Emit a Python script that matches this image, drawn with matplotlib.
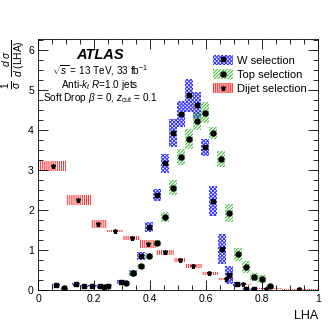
import matplotlib
matplotlib.use("Agg")
import matplotlib.pyplot as plt
from matplotlib.patches import Rectangle, Patch
from matplotlib.lines import Line2D
from matplotlib.ticker import MultipleLocator
import numpy as np

plt.rcParams['font.family'] = ['Liberation Sans', 'DejaVu Sans']
plt.rcParams['mathtext.fontset'] = 'custom'
plt.rcParams['mathtext.rm'] = 'Liberation Sans'
plt.rcParams['mathtext.it'] = 'Liberation Sans:italic'
plt.rcParams['mathtext.bf'] = 'Liberation Sans:bold'
plt.rcParams['hatch.linewidth'] = 0.7

# W selection
w_x = [0.064, 0.136, 0.164, 0.194, 0.221, 0.251, 0.295, 0.340, 0.368, 0.396, 0.425, 0.454,
       0.483, 0.512, 0.540, 0.569, 0.598, 0.626, 0.656, 0.683, 0.712, 0.742, 0.773]
w_y = [0.12, 0.14, 0.10, 0.10, 0.09, 0.10, 0.21, 0.43, 0.85, 1.58, 2.37, 3.16,
       3.93, 4.39, 4.86, 4.62, 3.56, 2.23, 1.02, 0.37, 0.14, 0.03, 0.02]
w_err = [0.03, 0.03, 0.03, 0.03, 0.03, 0.03, 0.05, 0.08, 0.10, 0.12, 0.15, 0.23,
         0.35, 0.32, 0.41, 0.33, 0.22, 0.37, 0.37, 0.23, 0.05, 0.03, 0.02]

# Top selection
t_x = [0.093, 0.236, 0.313, 0.340, 0.368, 0.396, 0.424, 0.454, 0.483, 0.512, 0.540,
       0.569, 0.598, 0.626, 0.655, 0.683, 0.713, 0.743, 0.773, 0.800, 0.829]
t_y = [0.04, 0.07, 0.18, 0.43, 0.59, 0.85, 1.17, 1.82, 2.56, 3.31, 3.78,
       4.21, 4.43, 3.93, 3.27, 1.93, 0.89, 0.57, 0.32, 0.27, 0.10]
t_err = [0.02, 0.02, 0.04, 0.07, 0.07, 0.07, 0.08, 0.13, 0.18, 0.20, 0.25,
         0.21, 0.27, 0.15, 0.19, 0.22, 0.17, 0.15, 0.10, 0.10, 0.05]

# Dijet selection (variable bins)
d_edges = [0.0, 0.1, 0.19, 0.245, 0.303, 0.366, 0.423, 0.487, 0.525, 0.585, 0.643,
           0.70, 0.76, 0.87, 1.0]
d_x = [0.055, 0.144, 0.215, 0.275, 0.335, 0.394, 0.454, 0.506, 0.552, 0.612, 0.670,
       0.731, 0.814, 0.933]
d_y = [3.10, 2.25, 1.65, 1.48, 1.31, 1.16, 0.94, 0.75, 0.60, 0.42, 0.27, 0.14, 0.03, 0.02]
d_err = [0.12, 0.13, 0.09, 0.03, 0.05, 0.10, 0.07, 0.06, 0.055, 0.04, 0.03, 0.02, 0.01, 0.01]

bin_w = 0.0286

fig = plt.figure(figsize=(3.32, 3.22), dpi=100)
ax = fig.add_axes([0.1145, 0.0994, 0.8433, 0.7795])

blue = '#3333ff'
green = '#33bb33'
red = '#ff2222'
w_hatch = 'x' * 9
t_hatch = '/' * 10
d_hatch = '|' * 8

for i, (y, e) in enumerate(zip(d_y, d_err)):
    lo, hi = d_edges[i], d_edges[i + 1]
    ax.add_patch(Rectangle((lo, y - e), hi - lo, 2 * e, facecolor='none',
                           edgecolor=red, hatch=d_hatch, linewidth=0))
for x, y, e in zip(w_x, w_y, w_err):
    ax.add_patch(Rectangle((x - bin_w / 2, y - e), bin_w, 2 * e, facecolor='none',
                           edgecolor=blue, hatch=w_hatch, linewidth=0))
for x, y, e in zip(t_x, t_y, t_err):
    ax.add_patch(Rectangle((x - bin_w / 2, y - e), bin_w, 2 * e, facecolor='none',
                           edgecolor=green, hatch=t_hatch, linewidth=0))

ax.plot(w_x, w_y, 's', color='black', markersize=3.2, linestyle='none')
ax.plot(t_x, t_y, 'o', color='black', markersize=3.6, linestyle='none')
ax.plot(d_x, d_y, '*', color='black', markersize=3.6, linestyle='none')

ax.set_xlim(0, 1)
ax.set_ylim(0, 6.27)
ax.xaxis.set_minor_locator(MultipleLocator(0.05))
ax.yaxis.set_major_locator(MultipleLocator(1))
ax.yaxis.set_minor_locator(MultipleLocator(0.25))
ax.tick_params(which='both', direction='in', top=True, right=True, labelsize=7.5, pad=3)
ax.tick_params(which='major', length=7, width=0.6)
ax.tick_params(which='minor', length=3.5, width=0.6)
ax.set_xticks([0, 0.2, 0.4, 0.6, 0.8, 1.0])
ax.set_xticklabels(['0', '0.2', '0.4', '0.6', '0.8', '1'])
for s in ax.spines.values():
    s.set_linewidth(0.6)

ax.set_xlabel('LHA', loc='right', fontsize=9, labelpad=4)
fig.text(14 / 332, 1 - 40 / 322, r'$\frac{1}{\sigma}\ \frac{d\ \sigma}{d\ (\mathrm{LHA})}$',
         rotation=90, ha='center', va='top', fontsize=10.5)

ax.text(0.221, 0.935, 'ATLAS', transform=ax.transAxes, ha='center', va='center',
        fontsize=10.5, fontweight='bold', fontstyle='italic')
ax.text(0.221, 0.873, r'$\sqrt{s}$ = 13 TeV, 33 fb$^{-1}$', transform=ax.transAxes,
        ha='center', va='center', fontsize=7.2)
ax.text(0.221, 0.817, r'Anti-$k_{t}$ $R$=1.0 jets', transform=ax.transAxes,
        ha='center', va='center', fontsize=7.2)
ax.text(0.221, 0.766, r'Soft Drop $\beta$ = 0, $z_{\rm cut}$ = 0.1', transform=ax.transAxes,
        ha='center', va='center', fontsize=7.2)

h_w = (Patch(facecolor='none', edgecolor=blue, hatch=w_hatch, linewidth=0),
       Line2D([], [], marker='s', color='black', markersize=3.2, linestyle='none'))
h_t = (Patch(facecolor='none', edgecolor=green, hatch=t_hatch, linewidth=0),
       Line2D([], [], marker='o', color='black', markersize=3.6, linestyle='none'))
h_d = (Patch(facecolor='#ffcccc', edgecolor=red, hatch=d_hatch, linewidth=0),
       Line2D([], [], marker='*', color='black', markersize=3.6, linestyle='none'))
ax.legend([h_w, h_t, h_d], ['W selection', 'Top selection', 'Dijet selection'],
          loc='upper left', bbox_to_anchor=(0.605, 0.958), frameon=False, fontsize=8,
          handlelength=1.8, handleheight=1.0, labelspacing=0.3, handletextpad=0.35,
          borderpad=0)

fig.savefig('out.png', dpi=100)
